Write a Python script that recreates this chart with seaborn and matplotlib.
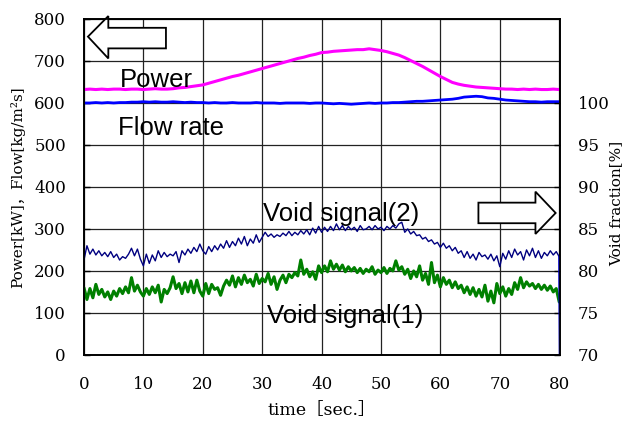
import numpy as np
import pandas as pd
import matplotlib
matplotlib.use("Agg")
import matplotlib.pyplot as plt
import seaborn as sns
from matplotlib.patches import Polygon

# ---------------- data ----------------
time_1s = list(range(0, 81))
power = [632, 633, 632, 633, 632, 633, 633, 632, 633, 633, 632, 633, 634, 633, 633,
         634, 636, 637, 639, 641, 643, 647, 651, 655, 659, 663, 666, 670, 674, 678,
         682, 686, 690, 694, 698, 702, 706, 709, 713, 716, 720, 721, 723, 724, 725,
         726, 727, 727, 729, 727, 725, 722, 718, 714, 708, 701, 694, 687, 679, 671,
         663, 656, 649, 645, 642, 640, 638, 637, 636, 635, 634, 633, 633, 632, 633,
         632, 633, 632, 632, 633, 632]
flow = [600, 600, 601, 600, 601, 600, 601, 601, 602, 602, 603, 602, 603, 602, 602,
        603, 602, 601, 602, 601, 601, 600, 601, 600, 600, 601, 600, 600, 600, 601,
        600, 600, 600, 599, 600, 600, 600, 600, 599, 600, 600, 599, 598, 599, 598,
        597, 598, 599, 600, 599, 600, 600, 601, 601, 602, 603, 604, 604, 605, 606,
        607, 608, 609, 611, 614, 615, 616, 615, 612, 611, 609, 607, 606, 605, 604,
        603, 603, 602, 603, 603, 603]

time_05s = [i * 0.5 for i in range(161)]
void2 = [81.3, 83.0, 82.0, 82.6, 81.9, 82.4, 81.8, 82.2, 81.7, 82.3,
         81.6, 82.0, 81.3, 81.7, 81.5, 82.0, 82.7, 81.8, 82.6, 81.4,
         80.6, 82.0, 80.9, 81.9, 81.2, 82.4, 81.6, 82.2, 81.7, 82.0,
         81.8, 82.3, 81.0, 82.4, 81.9, 82.6, 82.1, 82.8, 82.3, 83.2,
         82.4, 82.0, 82.9, 82.3, 83.0, 82.5, 83.2, 82.7, 83.6, 82.8,
         83.5, 83.0, 83.9, 83.2, 84.1, 83.0, 83.8, 83.3, 84.3, 83.4,
         84.0, 84.6, 84.1, 84.4, 84.0, 84.3, 84.1, 84.5, 84.2, 84.7,
         84.2, 84.6, 84.3, 84.8, 84.4, 84.9, 84.3, 85.1, 84.5, 85.3,
         84.6, 85.2, 84.7, 85.3, 84.8, 85.6, 84.9, 85.4, 84.8, 85.3,
         84.9, 85.2, 84.7, 85.4, 84.9, 85.0, 85.3, 84.9, 85.4, 85.0,
         85.2, 84.8, 85.3, 85.0, 85.4, 85.1, 85.6, 85.8, 84.6, 85.0,
         84.4, 84.7, 84.2, 84.3, 83.8, 84.0, 83.5, 83.7, 83.2, 83.4,
         82.8, 83.3, 82.7, 83.0, 82.4, 82.8, 82.1, 82.4, 81.6, 82.3,
         81.5, 82.0, 81.3, 82.2, 81.7, 81.9, 81.4, 82.0, 81.2, 81.8,
         80.5, 82.1, 81.4, 82.4, 81.6, 82.6, 81.9, 82.3, 81.3, 82.5,
         81.8, 82.7, 81.6, 82.4, 81.5, 82.2, 81.8, 82.4, 81.9, 82.3,
         81.7]
void1 = [78.0, 76.6, 77.9, 76.8, 78.4, 77.2, 77.8, 76.9, 77.5, 76.6,
         77.6, 77.0, 77.9, 77.3, 78.1, 77.4, 79.2, 77.6, 78.3, 77.5,
         77.0, 77.9, 77.2, 78.1, 77.4, 78.3, 76.3, 77.8, 77.3, 78.0,
         79.3, 77.9, 78.5, 77.3, 78.6, 77.5, 78.8, 77.4, 78.9, 77.6,
         77.0, 78.5, 77.3, 78.4, 77.8, 78.0, 77.1, 78.2, 78.9, 78.3,
         79.4, 78.1, 79.2, 78.4, 79.5, 78.6, 79.0, 78.2, 79.6, 78.5,
         79.1, 78.7, 79.7, 78.4, 79.3, 77.8, 78.9, 79.5, 78.6, 79.6,
         79.2, 79.8, 79.4, 81.3, 79.6, 80.2, 79.3, 79.9, 79.0, 80.6,
         79.8, 80.6, 79.9, 81.2, 80.2, 80.8, 80.1, 80.7, 79.9, 80.5,
         80.0, 80.4, 79.8, 80.3, 79.7, 80.2, 79.9, 80.5, 79.6, 80.1,
         79.8, 80.4, 79.7, 80.3, 80.0, 81.2, 80.1, 80.5, 79.6, 80.2,
         79.1, 80.0, 79.3, 80.6, 78.9, 79.7, 78.4, 81.0, 78.6, 79.5,
         78.1, 79.2, 78.4, 78.9, 78.0, 78.7, 77.9, 78.3, 77.4, 78.1,
         77.2, 78.0, 77.0, 77.8, 76.9, 78.3, 76.4, 77.6, 76.2, 78.5,
         77.3, 78.1, 77.0, 77.9, 77.2, 78.6, 77.8, 79.2, 78.0, 78.7,
         78.2, 78.5, 77.9, 78.4, 77.8, 78.3, 77.7, 78.2, 77.5, 77.9,
         76.3]
# final drop of the void signal(2) trace at the end of the record
void2_end_time = [80.0, 80.1]
void2_end = [81.7, 70.0]

x_ticks = [0, 10, 20, 30, 40, 50, 60, 70, 80]
left_ticks = [0, 100, 200, 300, 400, 500, 600, 700, 800]
right_ticks = [70, 75, 80, 85, 90, 95, 100]

# ---------------- style ----------------
sns.set_style("white")
plt.rcParams['font.family'] = ['DejaVu Serif', 'Noto Sans CJK JP']
plt.rcParams['font.size'] = 12
plt.rcParams['text.color'] = 'black'
plt.rcParams['axes.labelcolor'] = 'black'

fig = plt.figure(figsize=(6.22, 4.22), dpi=100)
ax = fig.add_axes([0.135, 0.159, 0.765, 0.796])
ax2 = ax.twinx()

df1 = pd.DataFrame({"t": time_1s, "power": power, "flow": flow})
df2 = pd.DataFrame({"t": time_05s, "v1": void1, "v2": void2})

sns.lineplot(data=df1, x="t", y="power", ax=ax, color="#FF00FF", linewidth=2.2)
sns.lineplot(data=df1, x="t", y="flow", ax=ax, color="#0000FF", linewidth=2.0)
sns.lineplot(data=df2, x="t", y="v1", ax=ax2, color="#008000", linewidth=2.2)
sns.lineplot(data=df2, x="t", y="v2", ax=ax2, color="#000080", linewidth=1.0)
ax2.plot(void2_end_time, void2_end, color="#0000CD", linewidth=1.5)

ax.set_xlim(0, 80.1)
ax.set_ylim(0, 800)
ax2.set_ylim(70, 110)
ax.set_xticks(x_ticks)
ax.set_yticks(left_ticks)
ax2.set_yticks(right_ticks)

ax.grid(True, color="#222222", linewidth=0.9)
ax.set_axisbelow(True)
for a in (ax, ax2):
    for s in a.spines.values():
        s.set_color("black")
        s.set_linewidth(1.2)
    a.tick_params(direction="in", length=4, width=1, colors="black", labelsize=12)
ax.tick_params(axis="x", pad=15)
ax.tick_params(axis="y", pad=13)
ax2.tick_params(axis="y", pad=13)

ax.set_xlabel("time［sec.］", fontsize=12.5, color="black")
ax.xaxis.set_label_coords(0.5, -0.14)
ax.set_ylabel("Power[kW]，Flow[kg/m²s]", fontsize=11, color="black")
ax.yaxis.set_label_coords(-0.124, 0.5)
ax2.set_ylabel("Void fraction[%]", fontsize=11, color="black")
ax2.yaxis.set_label_coords(1.103, 0.45)

sans = ["Liberation Sans", "DejaVu Sans"]
ax.text(6.1, 655, "Power", fontsize=18.5, family=sans, va="center", ha="left", color="black")
ax.text(5.7, 540, "Flow rate", fontsize=18.5, family=sans, va="center", ha="left", color="black")
ax.text(30.1, 336, "Void signal(2)", fontsize=18.5, family=sans, va="center", ha="left", color="black")
ax.text(30.8, 93, "Void signal(1)", fontsize=18.5, family=sans, va="center", ha="left", color="black")

# direction arrows
left_arrow = Polygon([(0.67, 758), (4.1, 807), (4.1, 779), (13.8, 779),
                      (13.8, 730), (4.1, 730), (4.1, 706)], closed=True,
                     facecolor="white", edgecolor="black", linewidth=1.3,
                     clip_on=False, zorder=5)
ax.add_patch(left_arrow)
right_arrow = Polygon([(66.4, 362.6), (76.0, 362.6), (76.0, 388.8), (79.4, 338),
                       (76.0, 288), (76.0, 313.6), (66.4, 313.6)], closed=True,
                      facecolor="white", edgecolor="black", linewidth=1.3,
                      clip_on=False, zorder=5)
ax.add_patch(right_arrow)

fig.savefig("out.png", dpi=100)
